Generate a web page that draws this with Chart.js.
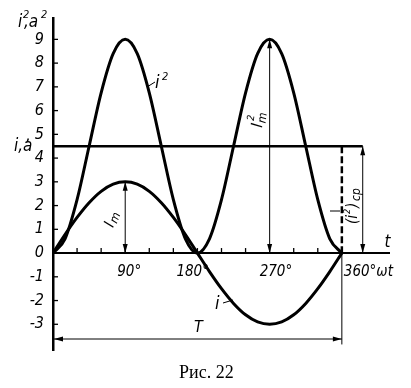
<!DOCTYPE html>
<html>
<head>
<meta charset="utf-8">
<script src="https://cdn.jsdelivr.net/npm/chart.js@4/dist/chart.umd.min.js"></script>
<style>
  html, body { margin: 0; padding: 0; background: #fff; }
</style>
</head>
<body>
<canvas id="chart" width="411" height="388"></canvas>
<script>
// angle, degrees
const angles = [0, 15, 30, 45, 60, 75, 90, 105, 120, 135, 150, 165, 180,
                195, 210, 225, 240, 255, 270, 285, 300, 315, 330, 345, 360];
// current i, a
const iValues = [0, 0.78, 1.5, 2.12, 2.6, 2.9, 3, 2.9, 2.6, 2.12, 1.5, 0.78, 0,
                 -0.78, -1.5, -2.12, -2.6, -2.9, -3, -2.9, -2.6, -2.12, -1.5, -0.78, 0];
// i squared, a^2
const i2Values = [0, 0.6, 2.25, 4.5, 6.75, 8.4, 9, 8.4, 6.75, 4.5, 2.25, 0.6, 0,
                  0.6, 2.25, 4.5, 6.75, 8.4, 9, 8.4, 6.75, 4.5, 2.25, 0.6, 0];
const meanValue = 4.5;
const yTicks = [-3, -2, -1, 0, 1, 2, 3, 4, 5, 6, 7, 8, 9];
const xTicks = [30, 60, 90, 120, 150, 180, 210, 240, 270, 300, 330, 360];
const xLabelValues = [90, 180, 270, 360];
const xLabels = ["90°", "180°", "270°", "360°ωt"];

const ink = "#000";
const italic = '"Liberation Sans Narrow", "DejaVu Sans Condensed", sans-serif';

function toPoints(xs, ys) {
    return xs.map((x, k) => ({ x: x, y: ys[k] }));
}

function head(ctx, x, y, dx, dy) {
    const len = Math.hypot(dx, dy);
    const ux = dx / len, uy = dy / len;
    ctx.beginPath();
    ctx.moveTo(x, y);
    ctx.lineTo(x - ux * 9 - uy * 2.5, y - uy * 9 + ux * 2.5);
    ctx.lineTo(x - ux * 9 + uy * 2.5, y - uy * 9 - ux * 2.5);
    ctx.closePath();
    ctx.fill();
}

function dimArrow(ctx, x1, y1, x2, y2) {
    ctx.beginPath();
    ctx.moveTo(x1, y1);
    ctx.lineTo(x2, y2);
    ctx.stroke();
    head(ctx, x2, y2, x2 - x1, y2 - y1);
    head(ctx, x1, y1, x1 - x2, y1 - y2);
}

const decorations = {
    id: "decorations",
    afterDatasetsDraw(chart) {
        const ctx = chart.ctx;
        const xs = chart.scales.x;
        const ys = chart.scales.y;
        const area = chart.chartArea;
        const y0 = ys.getPixelForValue(0);
        ctx.save();
        ctx.strokeStyle = ink;
        ctx.fillStyle = ink;

        // x axis at zero
        ctx.lineWidth = 2;
        ctx.beginPath();
        ctx.moveTo(area.left, y0);
        ctx.lineTo(area.right, y0);
        ctx.stroke();
        ctx.lineWidth = 1.3;
        xTicks.forEach(v => {
            const px = xs.getPixelForValue(v);
            ctx.beginPath();
            ctx.moveTo(px, y0);
            ctx.lineTo(px, y0 - 5);
            ctx.stroke();
        });
        yTicks.forEach(v => {
            const py = ys.getPixelForValue(v);
            ctx.beginPath();
            ctx.moveTo(area.left, py);
            ctx.lineTo(area.left + 5, py);
            ctx.stroke();
        });

        // x labels
        ctx.font = "italic 15px " + italic;
        ctx.textBaseline = "alphabetic";
        ctx.textAlign = "left";
        const shifts = [-8, -21, -10, 2];
        xLabelValues.forEach((v, k) => {
            ctx.fillText(xLabels[k], xs.getPixelForValue(v) + shifts[k], y0 + 23);
        });
        ctx.font = "italic 17px " + italic;
        ctx.fillText("t", xs.getPixelForValue(413), y0 - 6);

        // dimension arrows
        ctx.lineWidth = 1;
        const xm = xs.getPixelForValue(90);
        dimArrow(ctx, xm, y0, xm, ys.getPixelForValue(3));
        const xm2 = xs.getPixelForValue(270);
        dimArrow(ctx, xm2, y0, xm2, ys.getPixelForValue(9));
        const xa = xs.getPixelForValue(386);
        dimArrow(ctx, xa, y0, xa, ys.getPixelForValue(meanValue));
        const yT = ys.getPixelForValue(-3.62);
        dimArrow(ctx, area.left + 1, yT, xs.getPixelForValue(360), yT);
        const x360 = xs.getPixelForValue(360);
        ctx.beginPath();
        ctx.moveTo(x360, y0);
        ctx.lineTo(x360, ys.getPixelForValue(-3.85));
        ctx.stroke();

        // leaders
        ctx.beginPath();
        ctx.moveTo(147, 87); ctx.lineTo(155, 82);
        ctx.moveTo(223, 303); ctx.lineTo(233, 300);
        ctx.moveTo(330, 211); ctx.lineTo(340, 211);
        ctx.stroke();

        // curve labels
        ctx.font = "italic 18px " + italic;
        ctx.fillText("i", 155, 88);
        ctx.font = "italic 11px " + italic;
        ctx.fillText("2", 162, 80);
        ctx.font = "italic 18px " + italic;
        ctx.fillText("i", 215, 309);
        ctx.font = "italic 16px " + italic;
        ctx.fillText("T", 194, 332);

        // axis titles
        ctx.font = "italic 17px " + italic;
        ctx.fillText("i", 18, 27);
        ctx.fillText(",a", 24, 27);
        ctx.font = "italic 11px " + italic;
        ctx.fillText("2", 23, 18);
        ctx.fillText("2", 41, 18);
        ctx.font = "italic 17px " + italic;
        ctx.fillText("i,a", 14, 151);
        ctx.fillText(",", 26, 141);

        // rotated labels
        ctx.save();
        ctx.translate(113, 228);
        ctx.rotate(-1.2);
        ctx.font = "italic 15px " + italic;
        ctx.fillText("I", 0, 0);
        ctx.font = "italic 12px " + italic;
        ctx.fillText("m", 5, 2);
        ctx.restore();

        ctx.save();
        ctx.translate(262, 128);
        ctx.rotate(-1.45);
        ctx.font = "italic 16px " + italic;
        ctx.fillText("I", 0, 0);
        ctx.font = "italic 12px " + italic;
        ctx.fillText("m", 5, 3);
        ctx.font = "italic 10px " + italic;
        ctx.fillText("2", 6, -9);
        ctx.restore();

        ctx.save();
        ctx.translate(357, 224);
        ctx.rotate(-Math.PI / 2);
        ctx.font = "italic 15px " + italic;
        ctx.fillText("(i", 0, 0);
        ctx.font = "italic 9px " + italic;
        ctx.fillText("2", 10, -7);
        ctx.font = "italic 15px " + italic;
        ctx.fillText(")", 16, 0);
        ctx.font = "italic 12px " + italic;
        ctx.fillText("ср", 23, 3);
        ctx.restore();

        // caption
        ctx.font = '18px "Liberation Serif", serif';
        ctx.fillText("Рис. 22", 179, 378);
        ctx.restore();
    }
};

new Chart("chart", {
    type: "line",
    data: {
        datasets: [
            {
                label: "i²",
                data: toPoints(angles, i2Values),
                borderColor: ink,
                borderWidth: 3,
                pointRadius: 0,
                cubicInterpolationMode: "monotone"
            },
            {
                label: "i",
                data: toPoints(angles, iValues),
                borderColor: ink,
                borderWidth: 3,
                pointRadius: 0,
                cubicInterpolationMode: "monotone"
            },
            {
                label: "(i²)ср",
                data: [{ x: 0, y: meanValue }, { x: 386, y: meanValue }],
                borderColor: ink,
                borderWidth: 2.5,
                pointRadius: 0
            },
            {
                label: "dash",
                data: [{ x: 360, y: meanValue }, { x: 360, y: 0 }],
                borderColor: ink,
                borderWidth: 2.5,
                borderDash: [7, 3],
                pointRadius: 0
            }
        ]
    },
    options: {
        responsive: false,
        animation: false,
        devicePixelRatio: 1,
        layout: { padding: { left: 0, top: 15, right: 21, bottom: 38 } },
        plugins: {
            legend: { display: false },
            tooltip: { enabled: false }
        },
        scales: {
            x: {
                type: "linear",
                display: false,
                min: 0,
                max: 420
            },
            y: {
                type: "linear",
                min: -4.083,
                max: 9.875,
                afterFit(scale) { scale.width = 53; },
                afterBuildTicks(scale) { scale.ticks = yTicks.map(v => ({ value: v })); },
                grid: { display: false, drawTicks: false },
                border: { display: true, color: ink, width: 2.5 },
                ticks: {
                    color: ink,
                    padding: 9,
                    font: { family: italic, size: 16, style: "italic" }
                }
            }
        }
    },
    plugins: [decorations]
});
</script>
</body>
</html>
